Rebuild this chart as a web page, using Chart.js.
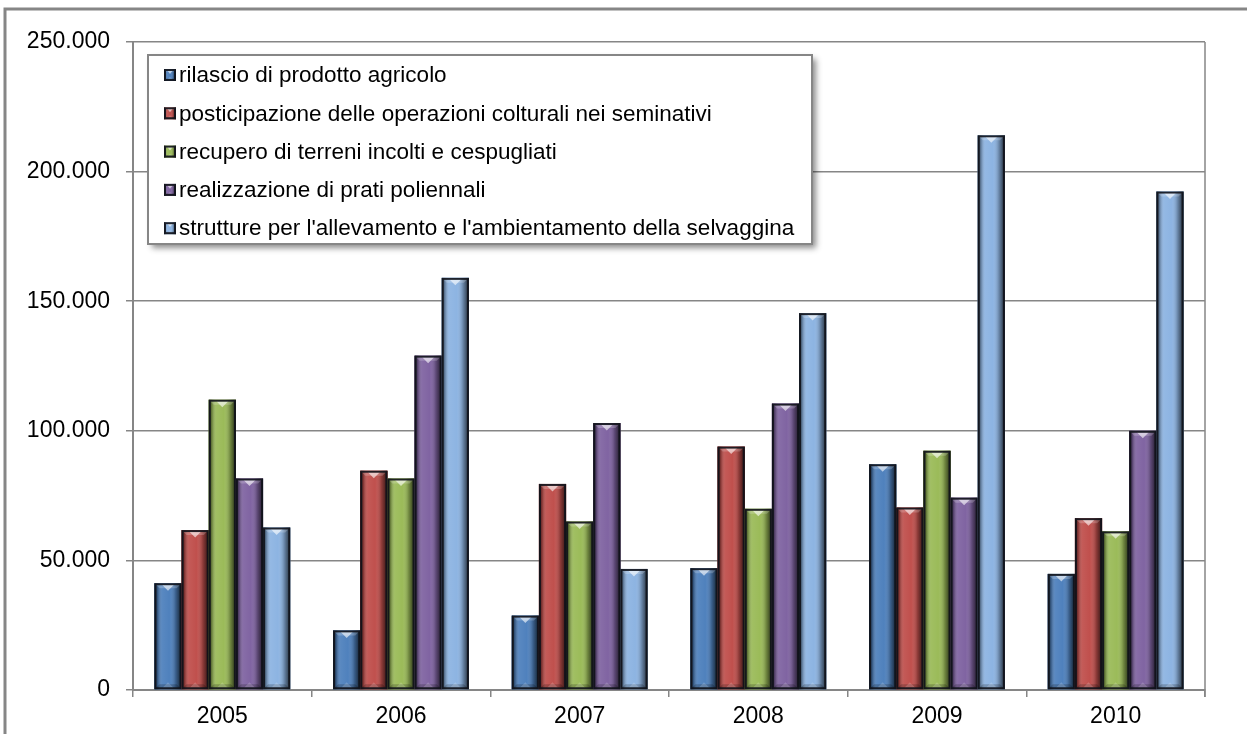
<!DOCTYPE html>
<html lang="it">
<head>
<meta charset="utf-8">
<title>Interventi per anno</title>
<script src="https://cdn.jsdelivr.net/npm/chart.js@4.4.1/dist/chart.umd.min.js"></script>
<style>
  html, body { margin: 0; padding: 0; background: #fff; }
  #wrap { position: relative; width: 1247px; height: 734px; }
</style>
</head>
<body>
<div id="wrap"><canvas id="chart" width="1247" height="734"></canvas></div>
<script>
// Data
const years = ['2005', '2006', '2007', '2008', '2009', '2010'];
const seriesNames = [
  'rilascio di prodotto agricolo',
  'posticipazione delle operazioni colturali nei seminativi',
  'recupero di terreni incolti e cespugliati',
  'realizzazione di prati poliennali',
  "strutture per l'allevamento e l'ambientamento della selvaggina"
];
const rilascio = [41200, 23000, 28700, 47000, 87100, 44800];
const posticipazione = [61700, 84600, 79500, 93900, 70400, 66300];
const recupero = [112000, 81600, 65000, 69900, 92300, 61200];
const prati = [81600, 129000, 103000, 110500, 74200, 100000];
const strutture = [62700, 159000, 46700, 145400, 214000, 192300];
const yMax = 250000;
const yStep = 50000;

const seriesValues = [rilascio, posticipazione, recupero, prati, strutture];
const seriesColors = ['#4F81BD', '#C0504D', '#9BBB59', '#8064A2', '#8DB4E2'];

const FONT = '"Liberation Sans", Arial, sans-serif';
const GRID = '#868686';

// 250000 -> "250.000"
function formatIt(v) {
  return String(v).replace(/\B(?=(\d{3})+(?!\d))/g, '.');
}

// draws the Office-style bevel on one bar rectangle
function drawBevel(ctx, L, R, T, B, color) {
  const w = R - L;
  const h = B - T;
  if (h <= 0) return;
  const b = Math.min(5, w / 5, h / 2);

  ctx.save();
  ctx.fillStyle = color;
  ctx.fillRect(L, T, w, h);

  // side shading
  const g = ctx.createLinearGradient(L, 0, R, 0);
  g.addColorStop(0, 'rgba(0,0,0,0.7)');
  g.addColorStop(0.12, 'rgba(0,0,0,0.3)');
  g.addColorStop(0.28, 'rgba(255,255,255,0.06)');
  g.addColorStop(0.55, 'rgba(255,255,255,0)');
  g.addColorStop(0.78, 'rgba(0,0,0,0.25)');
  g.addColorStop(1, 'rgba(0,0,0,0.75)');
  ctx.fillStyle = g;
  ctx.fillRect(L, T, w, h);

  // top bevel
  ctx.beginPath();
  ctx.moveTo(L, T);
  ctx.lineTo(R, T);
  ctx.lineTo(R - b, T + b);
  ctx.lineTo(L + b, T + b);
  ctx.closePath();
  ctx.fillStyle = 'rgba(255,255,255,0.2)';
  ctx.fill();

  ctx.beginPath();
  ctx.moveTo(L + w * 0.28, T + 1.5);
  ctx.lineTo(R - w * 0.28, T + 1.5);
  ctx.lineTo(L + w / 2, T + b + 2.5);
  ctx.closePath();
  ctx.fillStyle = 'rgba(255,255,255,0.6)';
  ctx.fill();

  // bottom bevel
  ctx.beginPath();
  ctx.moveTo(L, B);
  ctx.lineTo(R, B);
  ctx.lineTo(R - b, B - b);
  ctx.lineTo(L + b, B - b);
  ctx.closePath();
  ctx.fillStyle = 'rgba(0,0,0,0.2)';
  ctx.fill();

  ctx.beginPath();
  ctx.moveTo(L + w * 0.3, B - 1.5);
  ctx.lineTo(R - w * 0.3, B - 1.5);
  ctx.lineTo(L + w / 2, B - b - 2);
  ctx.closePath();
  ctx.fillStyle = 'rgba(255,255,255,0.18)';
  ctx.fill();

  // outline
  ctx.strokeStyle = 'rgba(15,18,25,0.9)';
  ctx.lineWidth = 2;
  ctx.strokeRect(L + 1, T + 1, w - 2, h - 2);
  ctx.restore();
}

const framePlugin = {
  id: 'frame',
  beforeDraw(chart) {
    const ctx = chart.ctx;
    ctx.save();
    ctx.fillStyle = '#fff';
    ctx.fillRect(0, 0, chart.width, chart.height);
    ctx.strokeStyle = GRID;
    ctx.lineWidth = 3;
    ctx.beginPath();
    ctx.moveTo(5, chart.height + 5);
    ctx.lineTo(5, 9);
    ctx.lineTo(chart.width + 5, 9);
    ctx.stroke();
    ctx.restore();
  },
  afterDraw(chart) {
    // right border of the plot area
    const a = chart.chartArea;
    const ctx = chart.ctx;
    ctx.save();
    ctx.strokeStyle = GRID;
    ctx.lineWidth = 1.5;
    ctx.beginPath();
    ctx.moveTo(a.right, a.top);
    ctx.lineTo(a.right, a.bottom + 7);
    ctx.stroke();
    ctx.restore();
  }
};

const bevelPlugin = {
  id: 'bevel',
  afterDatasetsDraw(chart) {
    const ctx = chart.ctx;
    chart.data.datasets.forEach((ds, i) => {
      const meta = chart.getDatasetMeta(i);
      meta.data.forEach(bar => {
        const p = bar.getProps(['x', 'y', 'base', 'width'], true);
        drawBevel(ctx, p.x - p.width / 2, p.x + p.width / 2, p.y, p.base, ds.backgroundColor);
      });
    });
  }
};

const legendPlugin = {
  id: 'boxLegend',
  afterDraw(chart) {
    const ctx = chart.ctx;
    const box = { x: 148, y: 55, w: 664, h: 189 };
    ctx.save();
    ctx.shadowColor = 'rgba(0,0,0,0.45)';
    ctx.shadowBlur = 6;
    ctx.shadowOffsetX = 4;
    ctx.shadowOffsetY = 4;
    ctx.fillStyle = '#fff';
    ctx.fillRect(box.x, box.y, box.w, box.h);
    ctx.restore();

    ctx.save();
    ctx.strokeStyle = GRID;
    ctx.lineWidth = 2;
    ctx.strokeRect(box.x, box.y, box.w, box.h);

    ctx.font = '22.5px ' + FONT;
    ctx.fillStyle = '#000';
    ctx.textBaseline = 'middle';
    chart.data.datasets.forEach((ds, i) => {
      const cy = 75 + i * 38.3;
      drawBevel(ctx, 164, 176, cy - 6, cy + 6, ds.backgroundColor);
      ctx.fillText(ds.label, 179, cy + 1);
    });
    ctx.restore();
  }
};

const ctx = document.getElementById('chart').getContext('2d');
new Chart(ctx, {
  type: 'bar',
  data: {
    labels: years,
    datasets: seriesNames.map((name, i) => ({
      label: name,
      data: seriesValues[i],
      backgroundColor: seriesColors[i],
      borderWidth: 0,
      categoryPercentage: 0.76,
      barPercentage: 1.0
    }))
  },
  options: {
    responsive: false,
    devicePixelRatio: 1,
    animation: false,
    layout: { padding: { top: 42, right: 42, bottom: 0, left: 0 } },
    plugins: {
      legend: { display: false },
      tooltip: { enabled: false }
    },
    scales: {
      x: {
        afterFit(scale) { scale.height = 44; },
        grid: {
          drawOnChartArea: false,
          drawTicks: true,
          tickLength: 7,
          color: GRID,
          lineWidth: 1.5
        },
        border: { display: true, color: GRID, width: 2 },
        ticks: {
          color: '#000',
          padding: 6,
          font: { family: FONT, size: 23 }
        }
      },
      y: {
        min: 0,
        max: yMax,
        afterFit(scale) { scale.width = 133; },
        grid: {
          color: GRID,
          lineWidth: 1.5,
          tickLength: 7
        },
        border: { display: true, color: GRID, width: 2 },
        ticks: {
          stepSize: yStep,
          color: '#000',
          padding: 16,
          font: { family: FONT, size: 23 },
          callback: v => formatIt(v)
        }
      }
    }
  },
  plugins: [framePlugin, bevelPlugin, legendPlugin]
});
</script>
</body>
</html>
